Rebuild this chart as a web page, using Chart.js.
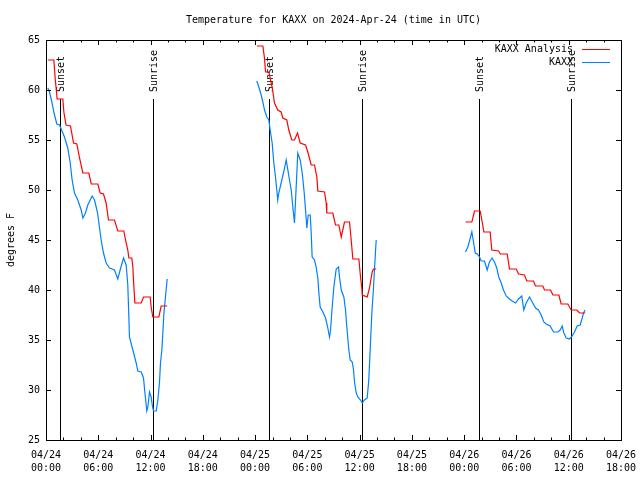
<!DOCTYPE html>
<html>
<head>
<meta charset="utf-8">
<script src="https://cdn.jsdelivr.net/npm/chart.js@4.4.1/dist/chart.umd.min.js"></script>
<style>
  html, body { margin: 0; padding: 0; background: #ffffff; }
  #c { display: block; }
</style>
</head>
<body>
<canvas id="c" width="640" height="480"></canvas>
<script>
// ---------- DATA (hours since 2024-04-24 00:00 UTC) ----------
const chartTitle = 'Temperature for KAXX on 2024-Apr-24 (time in UTC)';
const yAxisTitle = 'degrees F';
const seriesNames = ['KAXX Analysis', 'KAXX'];

const xTickLabels = [
  ['04/24', '00:00'], ['04/24', '06:00'], ['04/24', '12:00'], ['04/24', '18:00'],
  ['04/25', '00:00'], ['04/25', '06:00'], ['04/25', '12:00'], ['04/25', '18:00'],
  ['04/26', '00:00'], ['04/26', '06:00'], ['04/26', '12:00'], ['04/26', '18:00']
];

const sunsetHours = [1.6, 25.6, 49.65];
const sunriseHours = [12.25, 36.25, 60.25];

// KAXX Analysis (red)
const analysisHours = [
  0.21, 0.9, 1.05, 1.28, 1.93, 2.05, 2.3, 2.81, 3.16, 3.54, 3.85, 4.23, 4.92, 5.19, 5.95,
  6.22, 6.6, 6.9, 7.17, 7.86, 8.24, 8.93, 9.13, 9.39, 9.51, 9.85, 9.97, 10.04, 10.2, 10.93,
  11.19, 11.96, 12.07, 12.26, 12.95, 13.22, 13.91,
  18.0,
  24.2, 24.89, 25.08, 25.2, 25.58, 25.96, 26.23, 26.6, 26.99, 27.18, 27.64, 27.87, 28.21,
  28.52, 28.87, 29.18, 29.79, 30.05, 30.44, 30.82, 31.09, 31.2, 31.97, 32.16, 32.23, 32.92,
  33.23, 33.61, 33.89, 34.26, 34.84, 35.03, 35.22, 35.91, 36.1, 36.25, 36.3, 36.87, 37.13,
  37.44, 37.59, 37.9,
  42.0,
  48.15, 48.88, 49.19, 49.84, 50.07, 50.26, 50.98, 51.17, 51.94, 52.14, 52.94, 53.2, 53.97,
  54.24, 54.92, 55.19, 55.96, 56.19, 57.03, 57.22, 57.91, 58.18, 58.87, 59.13, 59.9, 60.28,
  60.93, 61.24, 61.89
];
const analysisTemps = [
  63.0, 63.0, 61.2, 59.1, 59.1, 57.8, 56.5, 56.4, 54.7, 54.6, 53.2, 51.7, 51.7, 50.6, 50.6,
  49.7, 49.6, 48.7, 47.0, 47.0, 45.9, 45.9, 45.0, 44.0, 43.2, 43.2, 42.3, 41.0, 38.7, 38.7,
  39.3, 39.3, 38.3, 37.3, 37.3, 38.4, 38.4,
  null,
  64.4, 64.4, 63.2, 61.8, 61.8, 60.3, 58.7, 58.0, 57.8, 57.2, 57.0, 56.0, 55.0,
  55.0, 55.7, 54.7, 54.5, 53.8, 52.5, 52.5, 51.3, 49.9, 49.8, 48.7, 47.7, 47.7,
  46.5, 46.5, 45.3, 46.8, 46.8, 45.0, 43.1, 43.1, 41.3, 40.2, 39.5, 39.3, 40.2,
  41.8, 42.1, 42.1,
  null,
  46.8, 46.8, 47.9, 47.9, 46.8, 45.8, 45.8, 44.0, 43.9, 43.6, 43.6, 42.1, 42.1,
  41.6, 41.5, 40.9, 40.9, 40.4, 40.4, 40.0, 40.0, 39.5, 39.5, 38.6, 38.6, 38.0,
  38.0, 37.7, 37.7
];

// KAXX observations (blue)
const observedHours = [
  0.21, 0.4, 0.67, 0.9, 1.24, 1.55, 2.12, 2.5, 2.78, 3.0, 3.27, 3.65, 4.04, 4.23, 4.53, 4.8,
  5.3, 5.57, 5.84, 5.95, 6.33, 6.6, 6.9, 7.29, 7.86, 8.24, 8.51, 8.9, 9.2, 9.39, 9.51, 9.58,
  9.97, 10.35, 10.54, 10.93, 11.19, 11.38, 11.57, 11.69, 11.88, 12.07, 12.19, 12.34, 12.65,
  12.84, 13.03, 13.14, 13.3, 13.41, 13.52, 13.68, 13.91,
  18.0,
  24.2, 24.43, 24.7, 24.89, 25.08, 25.35, 25.58, 25.73, 25.96, 26.15, 26.34, 26.49, 26.6,
  26.72, 26.99, 27.26, 27.57, 27.76, 27.95, 28.15, 28.33, 28.52, 28.9, 29.18, 29.41, 29.64,
  29.79, 29.94, 30.1, 30.33, 30.44, 30.55, 30.82, 31.01, 31.2, 31.32, 31.47, 31.78, 32.09,
  32.35, 32.54, 32.66, 32.85, 33.04, 33.31, 33.58, 33.69, 33.89, 34.19, 34.38, 34.53, 34.76,
  34.92, 35.15, 35.3, 35.41, 35.61, 35.8, 36.1, 36.3, 36.56, 36.87, 37.05, 37.21, 37.4,
  37.59, 37.7, 37.82, 37.9,
  42.0,
  48.15, 48.42, 48.7, 48.88, 49.07, 49.27, 49.5, 49.76, 49.95, 50.33, 50.64, 50.9, 51.21,
  51.48, 51.74, 51.97, 52.25, 52.51, 52.82, 53.2, 53.51, 53.89, 54.24, 54.61, 54.84, 55.12,
  55.5, 55.81, 56.19, 56.53, 56.84, 57.14, 57.42, 57.87, 58.25, 58.75, 59.02, 59.25, 59.44,
  59.71, 60.09, 60.4, 60.66, 60.97, 61.32, 61.55, 61.7, 61.89
];
const observedTemps = [
  60.2, 59.8, 58.8, 57.8, 56.6, 56.5, 55.3, 54.2, 52.7, 51.0, 49.7, 49.0, 48.0, 47.2, 47.7, 48.5,
  49.4, 49.0, 48.0, 47.5, 45.0, 43.7, 42.7, 42.2, 42.0, 41.1, 42.0, 43.2, 42.5, 40.5, 37.3, 35.3,
  34.0, 32.7, 31.9, 31.8, 31.2, 29.5, 27.9, 28.3, 29.8, 29.3, 28.5, 27.9, 27.9,
  29.0, 30.8, 32.7, 34.0, 35.7, 37.5, 39.0, 41.1,
  null,
  60.9, 60.3, 59.5, 58.8, 58.0, 57.3, 57.0, 56.0, 54.7, 52.7, 51.3, 50.0, 49.0,
  49.7, 50.7, 51.7, 53.0, 52.0, 51.0, 50.0, 48.3, 46.7, 53.7, 53.0, 51.7, 49.7,
  48.0, 46.2, 47.5, 47.5, 45.7, 43.3, 43.0, 42.3, 41.2, 39.7, 38.3, 37.8, 37.2,
  36.2, 35.3, 36.0, 38.3, 40.3, 42.1, 42.3, 41.3, 40.0, 39.3, 38.0, 36.3, 34.0,
  33.0, 32.8, 32.0, 30.8, 29.7, 29.3, 29.0, 28.7, 29.0, 29.2, 31.0, 34.0, 37.7,
  40.2, 42.0, 43.8, 45.0,
  null,
  43.8, 44.3, 45.2, 45.8, 44.8, 43.7, 43.6, 43.3, 42.9, 42.9, 42.0, 42.8, 43.2,
  42.8, 42.2, 41.3, 40.7, 40.0, 39.4, 39.1, 38.9, 38.7, 39.1, 39.4, 38.0, 38.7,
  39.3, 38.8, 38.2, 38.0, 37.5, 36.8, 36.6, 36.4, 35.8, 35.8, 36.0, 36.4, 35.7,
  35.2, 35.1, 35.4, 35.8, 36.4, 36.5, 37.2, 37.7, 38.0
];

const xMin = 0, xMax = 66, xMinorStep = 2, xMajorStep = 6;
const yMin = 25, yMax = 65, yStep = 5;
const sunLineTop = 59.1, sunLabelAt = 59.8;

// ---------- STYLE ----------
const FONT = 'DejaVu Sans Mono';
const RED = '#ff0000';
const BLUE = '#0080ff';

function toPoints(xs, ys) {
  return xs.map((x, i) => ({ x: x, y: ys[i] }));
}

const gnuplotPlugin = {
  id: 'gnuplotDecor',
  beforeDatasetsDraw(chart) {
    const { ctx, chartArea: a, scales: { x, y } } = chart;
    ctx.save();
    ctx.strokeStyle = '#000';
    ctx.lineWidth = 1;
    ctx.fillStyle = '#000';
    ctx.font = '10px "' + FONT + '"';
    const yTop = y.getPixelForValue(sunLineTop);
    const yLab = y.getPixelForValue(sunLabelAt);
    const draw = (hrs, text) => {
      hrs.forEach(h => {
        const px = Math.round(x.getPixelForValue(h)) + 0.5;
        ctx.beginPath();
        ctx.moveTo(px, a.bottom);
        ctx.lineTo(px, Math.round(yTop));
        ctx.stroke();
        ctx.save();
        ctx.translate(px + 1, yLab);
        ctx.rotate(-Math.PI / 2);
        ctx.textAlign = 'left';
        ctx.textBaseline = 'middle';
        ctx.fillText(text, 0, 0);
        ctx.restore();
      });
    };
    draw(sunsetHours, 'Sunset');
    draw(sunriseHours, 'Sunrise');
    ctx.restore();
  },
  afterDatasetsDraw(chart) {
    const { ctx, chartArea: a, scales: { x, y } } = chart;
    ctx.save();
    ctx.strokeStyle = '#000';
    ctx.lineWidth = 1;
    // frame
    ctx.strokeRect(a.left + 0.5, a.top + 0.5, a.right - a.left, a.bottom - a.top);
    // x ticks (bottom and top, inward)
    ctx.beginPath();
    for (let v = xMin; v <= xMax; v += xMinorStep) {
      const px = Math.round(x.getPixelForValue(v)) + 0.5;
      const len = (v % xMajorStep === 0) ? 5 : 2.5;
      ctx.moveTo(px, a.bottom);
      ctx.lineTo(px, a.bottom - len);
      ctx.moveTo(px, a.top);
      ctx.lineTo(px, a.top + len);
    }
    // y ticks (left and right, inward)
    for (let v = yMin; v <= yMax; v += yStep) {
      const py = Math.round(y.getPixelForValue(v)) + 0.5;
      ctx.moveTo(a.left, py);
      ctx.lineTo(a.left + 5, py);
      ctx.moveTo(a.right, py);
      ctx.lineTo(a.right - 5, py);
    }
    ctx.stroke();

    // legend (gnuplot style, top right inside)
    const ds = chart.data.datasets;
    ctx.font = '10px "' + FONT + '"';
    ctx.fillStyle = '#000';
    ctx.textAlign = 'right';
    ctx.textBaseline = 'middle';
    const textRight = 573, lineL = 582, lineR = 610;
    const rows = [49.5, 62.5];
    ds.forEach((d, i) => {
      ctx.fillText(d.label, textRight, rows[i]);
      ctx.strokeStyle = d.borderColor;
      ctx.beginPath();
      ctx.moveTo(lineL, rows[i]);
      ctx.lineTo(lineR, rows[i]);
      ctx.stroke();
    });
    ctx.restore();
  }
};

new Chart(document.getElementById('c').getContext('2d'), {
  type: 'line',
  data: {
    datasets: [
      {
        label: seriesNames[0],
        data: toPoints(analysisHours, analysisTemps),
        borderColor: RED, backgroundColor: RED,
        borderWidth: 1.2, pointRadius: 0, tension: 0, spanGaps: false, fill: false
      },
      {
        label: seriesNames[1],
        data: toPoints(observedHours, observedTemps),
        borderColor: BLUE, backgroundColor: BLUE,
        borderWidth: 1.2, pointRadius: 0, tension: 0, spanGaps: false, fill: false
      }
    ]
  },
  options: {
    responsive: false,
    animation: false,
    devicePixelRatio: 1,
    layout: { padding: { left: 0, right: 19, top: 0, bottom: 0 } },
    plugins: {
      legend: { display: false },
      tooltip: { enabled: false },
      title: {
        display: true,
        text: chartTitle,
        fullSize: false,
        color: '#000',
        font: { family: FONT, size: 10, weight: 'normal', lineHeight: 1.2 },
        padding: { top: 14, bottom: 14 }
      }
    },
    scales: {
      x: {
        type: 'linear',
        min: xMin, max: xMax,
        afterFit: s => { s.height = 40; s.paddingLeft = 0; s.paddingRight = 0; },
        grid: { display: false, drawTicks: false },
        border: { display: false },
        ticks: {
          stepSize: xMinorStep,
          autoSkip: false,
          maxRotation: 0,
          minRotation: 0,
          padding: 9,
          color: '#000',
          font: { family: FONT, size: 10, lineHeight: 1.3 },
          callback: v => (v % xMajorStep === 0) ? xTickLabels[v / xMajorStep] : ''
        }
      },
      y: {
        min: yMin, max: yMax,
        afterFit: s => { s.width = 46; s.paddingTop = 0; s.paddingBottom = 0; },
        grid: { display: false, drawTicks: false },
        border: { display: false },
        ticks: {
          stepSize: yStep,
          padding: 6,
          color: '#000',
          font: { family: FONT, size: 10 }
        },
        title: {
          display: true,
          text: yAxisTitle,
          color: '#000',
          font: { family: FONT, size: 10, lineHeight: 1.2 },
          padding: { top: 5, bottom: 0 }
        }
      }
    }
  },
  plugins: [gnuplotPlugin]
});
</script>
</body>
</html>
